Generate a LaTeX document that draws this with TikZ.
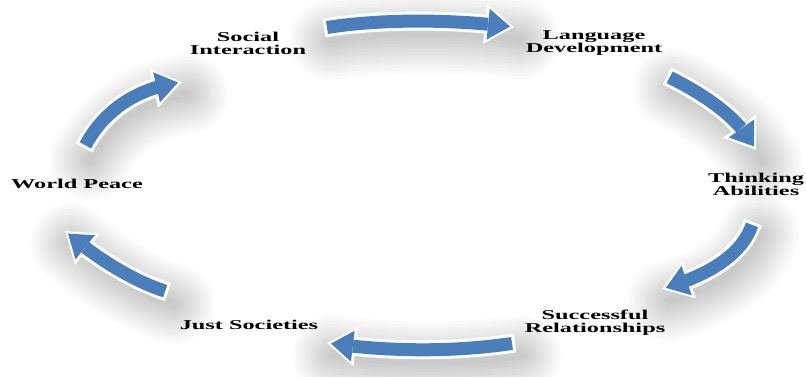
\documentclass[tikz,border=0pt]{standalone}
\usepackage{fontspec}
\newfontfamily\lblfont{Liberation Serif Bold}[FakeStretch=1.8]
\usetikzlibrary{arrows.meta,bending}
\definecolor{arrowblue}{HTML}{4A7EBB}
\tikzset{
  lbl/.style={font=\lblfont\fontsize{13.5}{13}\selectfont, align=center, inner sep=0pt, text=black},
  shadowstroke/.style={draw=black, opacity=0.016, line cap=round, transform canvas={shift={(6pt,-12pt)}}},
  arrowrim/.style={draw=white, line width=19pt, -{Triangle[width=40pt,length=29pt,line width=0pt]}},
  arrowbody/.style={draw=arrowblue, line width=13pt, shorten >=4pt, shorten <=3pt, -{Triangle[width=31pt,length=22pt,line width=0pt]}}
}
\newcommand\cycarrow[4]{%
  \foreach \w in {80,74,...,8}{\draw[shadowstroke, line width=\w pt] (#1) .. controls (#2) and (#3) .. (#4);}
  \draw[arrowrim] (#1) .. controls (#2) and (#3) .. (#4);
  \draw[arrowbody] (#1) .. controls (#2) and (#3) .. (#4);
}
\begin{document}
\begin{tikzpicture}[x=1pt,y=-1pt]
\useasboundingbox (0,0) rectangle (806,376);
\fill[white] (0,0) rectangle (806,376);
% arrow end points
\coordinate (a1s) at (324,28);  \coordinate (a1e) at (514,27);
\coordinate (a2s) at (667,76);  \coordinate (a2e) at (756,150);
\coordinate (a3s) at (753,222); \coordinate (a3e) at (662,289);
\coordinate (a4s) at (515,343); \coordinate (a4e) at (327,343);
\coordinate (a5s) at (168,292); \coordinate (a5e) at (65,231);
\coordinate (a6s) at (84,148);  \coordinate (a6e) at (182,82);
% arrows
\cycarrow{a1s}{380,19}{450,19}{a1e}
\cycarrow{a2s}{705,95}{740,118}{a2e}
\cycarrow{a3s}{742,254}{712,274}{a3e}
\cycarrow{a4s}{455,352}{390,352}{a4e}
\cycarrow{a5s}{133,281}{96,258}{a5e}
\cycarrow{a6s}{103,112}{135,88}{a6e}
% labels
\node[lbl] (social) at (248,43.5) {Social\\Interaction};
\node[lbl] (language) at (594,43.5) {Language\\Development};
\node[lbl] (thinking) at (756,184.5) {Thinking\\Abilities};
\node[lbl] (successful) at (595,322.5) {Successful\\Relationships};
\node[lbl] (just) at (249,325) {Just Societies};
\node[lbl] (world) at (77,184) {World Peace};
\end{tikzpicture}
\end{document}
